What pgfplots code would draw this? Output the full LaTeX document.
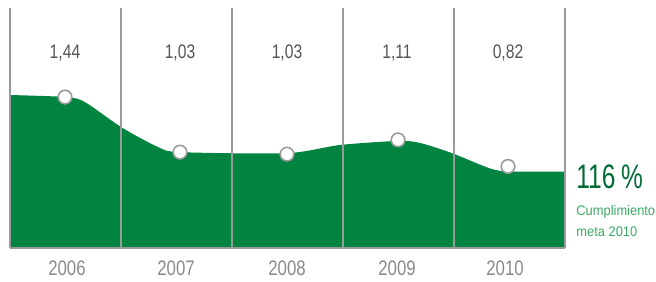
\documentclass[border=0pt]{standalone}
\usepackage{fontspec}
\setmainfont{Liberation Sans}
\newfontfamily\cond[FakeStretch=0.8]{Liberation Sans}
\newfontfamily\narrowpct[FakeStretch=0.72]{Liberation Sans}
\newfontfamily\semicond[FakeStretch=0.92]{Liberation Sans}
\usepackage{pgfplots}
\pgfplotsset{compat=1.18}
\definecolor{areagreen}{HTML}{00843F}
\definecolor{darkgreen}{HTML}{006B35}
\definecolor{lightgreen}{HTML}{3DAA66}
\definecolor{gridgray}{HTML}{9A9A9A}
\definecolor{valgray}{HTML}{555555}
\definecolor{yeargray}{HTML}{8A8A8A}
\begin{document}
\begin{tikzpicture}
\path[use as bounding box] (0,0) rectangle (328pt,140.5pt);
\begin{axis}[
  at={(5pt,16.5pt)}, anchor=south west,
  scale only axis, width=277.5pt, height=117.5pt,
  xmin=10, xmax=565, ymin=0, ymax=235,
  axis x line=bottom, axis y line=none,
  axis line style={gridgray, line width=0.7pt, -},
  xtick={10,121,232,343,454,565}, xticklabels={},
  major tick length=0pt,
  xmajorgrids, grid style={gridgray, line width=0.7pt},
  axis on top, clip=false,
  extra x ticks={67,176,287,397,505},
  extra x tick labels={2006,2007,2008,2009,2010},
  extra x tick style={grid=none, major tick length=0pt,
     tick label style={font=\cond\fontsize{10.5}{12}\selectfont, text=yeargray, yshift=-3pt}},
]
\addplot[fill=areagreen, draw=none, smooth, tension=0.45] coordinates {
 (10,150) (66,148) (85,143) (122,118) (158,99) (180,94) (287,93)
 (340,101) (398,105) (420,103) (452,93) (490,78) (510,75) (565,75)
} \closedcycle;
\addplot[only marks, mark=*, mark size=3.4pt, mark options={fill=white, draw=gridgray, line width=0.8pt}] coordinates {
 (65,148) (180,94) (287,92) (398,106) (508,80)
};
\node[font=\cond\fontsize{9.8}{12}\selectfont, text=valgray] at (axis cs:65,191) {1,44};
\node[font=\cond\fontsize{9.8}{12}\selectfont, text=valgray] at (axis cs:180,191) {1,03};
\node[font=\cond\fontsize{9.8}{12}\selectfont, text=valgray] at (axis cs:287,191) {1,03};
\node[font=\cond\fontsize{9.8}{12}\selectfont, text=valgray] at (axis cs:397,191) {1,11};
\node[font=\cond\fontsize{9.8}{12}\selectfont, text=valgray] at (axis cs:508,191) {0,82};
\node[anchor=west, inner sep=0pt, font=\narrowpct\fontsize{17}{18}\selectfont, text=darkgreen] at (axis cs:576,70) {116\,\%};
\node[anchor=west, inner sep=0pt, font=\semicond\fontsize{7}{8}\selectfont, text=lightgreen] at (axis cs:576,35) {Cumplimiento};
\node[anchor=west, inner sep=0pt, font=\semicond\fontsize{7}{8}\selectfont, text=lightgreen] at (axis cs:576,16) {meta 2010};
\end{axis}
\end{tikzpicture}
\end{document}
